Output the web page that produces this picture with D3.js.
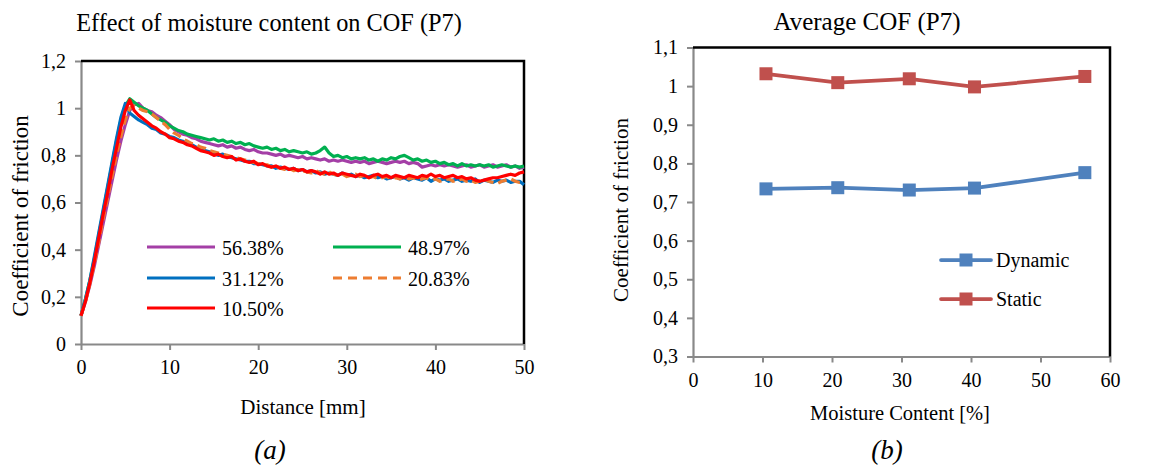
<!DOCTYPE html>
<html>
<head>
<meta charset="utf-8">
<script src="https://cdn.jsdelivr.net/npm/d3@7"></script>
<style>
  body { margin: 0; background: #fff; }
  svg text { font-family: "Liberation Serif", "Times New Roman", serif; }
</style>
</head>
<body>
<svg id="chart" width="1150" height="468"></svg>
<script>
/* (a) COF en fonction de la distance, un tracé par taux d'humidité */
const distance = [0,0.5,1,1.5,2,2.5,3,3.5,4,4.5,5,5.5,6,6.5,7,7.5,8,8.5,9,9.5,10,10.5,11,11.5,12,12.5,13,13.5,14,14.5,15,15.5,16,16.5,17,17.5,18,18.5,19,19.5,20,20.5,21,21.5,22,22.5,23,23.5,24,24.5,25,25.5,26,26.5,27,27.5,28,28.5,29,29.5,30,30.5,31,31.5,32,32.5,33,33.5,34,34.5,35,35.5,36,36.5,37,37.5,38,38.5,39,39.5,40,40.5,41,41.5,42,42.5,43,43.5,44,44.5,45,45.5,46,46.5,47,47.5,48,48.5,49,49.5,50]

const cof5638 = [0.12,0.18,0.25,0.33,0.42,0.51,0.6,0.69,0.78,0.86,0.93,0.99,1.015,1.02,1.0,0.99,0.985,0.97,0.96,0.945,0.93,0.91,0.9,0.89,0.885,0.875,0.87,0.86,0.855,0.85,0.845,0.84,0.845,0.835,0.84,0.83,0.835,0.825,0.82,0.825,0.815,0.81,0.81,0.805,0.8,0.805,0.795,0.8,0.795,0.79,0.795,0.785,0.79,0.785,0.78,0.785,0.775,0.78,0.775,0.78,0.775,0.77,0.775,0.77,0.775,0.765,0.77,0.775,0.77,0.765,0.77,0.775,0.77,0.775,0.765,0.77,0.765,0.75,0.755,0.76,0.755,0.76,0.755,0.76,0.755,0.75,0.755,0.76,0.75,0.755,0.76,0.75,0.755,0.76,0.75,0.755,0.76,0.75,0.755,0.745,0.75]
const cof4897 = [0.12,0.19,0.27,0.36,0.46,0.56,0.66,0.76,0.86,0.95,1.01,1.04,1.025,1.01,1.0,0.99,0.975,0.96,0.95,0.94,0.925,0.915,0.905,0.9,0.89,0.885,0.88,0.875,0.87,0.865,0.87,0.86,0.865,0.855,0.86,0.85,0.855,0.845,0.85,0.84,0.835,0.83,0.835,0.825,0.83,0.82,0.825,0.815,0.82,0.815,0.81,0.815,0.805,0.81,0.82,0.835,0.81,0.795,0.8,0.79,0.795,0.785,0.79,0.785,0.79,0.78,0.785,0.775,0.785,0.78,0.79,0.785,0.795,0.8,0.79,0.78,0.785,0.775,0.78,0.77,0.775,0.765,0.77,0.76,0.765,0.755,0.765,0.755,0.76,0.755,0.76,0.755,0.76,0.75,0.755,0.76,0.755,0.75,0.755,0.75,0.755]
const cof3112 = [0.12,0.19,0.27,0.37,0.47,0.57,0.67,0.77,0.87,0.96,1.02,0.98,0.965,0.95,0.94,0.93,0.915,0.91,0.895,0.89,0.88,0.875,0.865,0.86,0.85,0.845,0.835,0.825,0.82,0.815,0.81,0.8,0.805,0.795,0.79,0.785,0.78,0.775,0.775,0.765,0.765,0.76,0.755,0.755,0.745,0.75,0.745,0.74,0.745,0.735,0.74,0.73,0.735,0.725,0.73,0.72,0.725,0.72,0.715,0.725,0.715,0.72,0.71,0.715,0.705,0.71,0.715,0.705,0.71,0.7,0.705,0.71,0.7,0.705,0.695,0.705,0.7,0.695,0.705,0.69,0.7,0.695,0.7,0.69,0.695,0.7,0.69,0.695,0.69,0.7,0.685,0.695,0.69,0.685,0.695,0.69,0.695,0.685,0.69,0.69,0.675]
const cof2083 = [0.12,0.18,0.255,0.34,0.43,0.53,0.62,0.71,0.8,0.88,0.95,1.0,1.01,1.0,0.99,0.985,0.975,0.96,0.945,0.93,0.91,0.895,0.885,0.87,0.86,0.85,0.845,0.835,0.83,0.82,0.815,0.81,0.805,0.8,0.795,0.79,0.785,0.78,0.775,0.77,0.765,0.755,0.76,0.75,0.755,0.745,0.74,0.745,0.735,0.74,0.735,0.73,0.725,0.735,0.725,0.72,0.73,0.72,0.715,0.72,0.71,0.715,0.72,0.71,0.715,0.705,0.71,0.7,0.705,0.71,0.7,0.705,0.7,0.71,0.7,0.705,0.695,0.7,0.705,0.695,0.7,0.69,0.695,0.7,0.69,0.695,0.7,0.69,0.695,0.685,0.69,0.7,0.69,0.685,0.68,0.69,0.695,0.7,0.69,0.685,0.69]
const cof1050 = [0.12,0.18,0.26,0.35,0.45,0.55,0.64,0.74,0.83,0.92,0.99,1.035,0.99,0.97,0.955,0.94,0.925,0.915,0.9,0.89,0.875,0.87,0.86,0.855,0.845,0.84,0.83,0.82,0.815,0.81,0.8,0.805,0.795,0.79,0.795,0.78,0.785,0.775,0.77,0.775,0.76,0.765,0.755,0.75,0.755,0.745,0.75,0.74,0.745,0.735,0.74,0.73,0.735,0.73,0.72,0.73,0.72,0.725,0.715,0.725,0.72,0.715,0.71,0.72,0.715,0.705,0.715,0.72,0.71,0.715,0.705,0.715,0.71,0.705,0.715,0.71,0.705,0.715,0.71,0.72,0.71,0.715,0.705,0.71,0.715,0.705,0.71,0.7,0.705,0.695,0.69,0.695,0.7,0.705,0.705,0.71,0.715,0.72,0.715,0.725,0.73]

const seriesNames = ["56.38%", "48.97%", "31.12%", "20.83%", "10.50%"]
const seriesValues = [cof5638, cof4897, cof3112, cof2083, cof1050]
const seriesColors = ["#A43FA6", "#00B050", "#0070C0", "#ED7D31", "#FF0000"]
const dashed = [false, false, false, true, false]

const leftYTicks = [0, 0.2, 0.4, 0.6, 0.8, 1, 1.2]
const leftXTicks = [0, 10, 20, 30, 40, 50]

/* (b) COF moyen en fonction du taux d'humidité */
const moisture = [10.50, 20.83, 31.12, 40.5, 56.38]
const dynamicCof = [0.734, 0.737, 0.731, 0.736, 0.776]
const staticCof = [1.032, 1.009, 1.019, 0.998, 1.025]
const rightYTicks = [0.3, 0.4, 0.5, 0.6, 0.7, 0.8, 0.9, 1, 1.1]
const rightXTicks = [0, 10, 20, 30, 40, 50, 60]

const comma = v => String(+v.toFixed(2)).replace(".", ",")

const svg = d3.select("#chart")
const axisGrey = "#898989"
const serif = "'Liberation Serif', 'Times New Roman', serif"

function frame(x, y, xt, yt) {
    const gx = svg.append("g")
        .attr("transform", "translate(0," + y.range()[0] + ")")
        .call(d3.axisBottom(x).tickValues(xt).tickSize(6).tickSizeOuter(0).tickFormat(d3.format("d")).tickPadding(10))
    const gy = svg.append("g")
        .attr("transform", "translate(" + x.range()[0] + ",0)")
        .call(d3.axisLeft(y).tickValues(yt).tickSize(6).tickSizeOuter(0).tickFormat(comma).tickPadding(9))
    for (const g of [gx, gy]) {
        g.attr("font-family", serif).attr("font-size", 20)
        g.select(".domain").attr("stroke", axisGrey).attr("stroke-width", 2.2)
        g.selectAll(".tick line").attr("stroke", axisGrey).attr("stroke-width", 2)
        g.selectAll("text").attr("fill", "#000")
    }
    // bord haut et droit, noirs
    svg.append("path")
        .attr("d", d3.line()([[x.range()[0], y.range()[1]], [x.range()[1], y.range()[1]], [x.range()[1], y.range()[0]]]))
        .attr("fill", "none").attr("stroke", "#000").attr("stroke-width", 2.5)
}

/* ---- graphique (a) ---- */
const x1 = d3.scaleLinear().domain([0, 50]).range([81, 524])
const y1 = d3.scaleLinear().domain([0, 1.2]).range([344, 61])
frame(x1, y1, leftXTicks, leftYTicks)

const line1 = d3.line().x((d, i) => x1(distance[i])).y(d => y1(d))
seriesValues.forEach((vals, k) => {
    svg.append("path")
        .datum(vals)
        .attr("d", line1)
        .attr("fill", "none")
        .attr("stroke", seriesColors[k])
        .attr("stroke-width", 3.2)
        .attr("stroke-linejoin", "round")
        .attr("stroke-dasharray", dashed[k] ? "9,5" : null)
})

// légende (a)
const legPos = [[147, 247], [333, 247], [147, 278], [333, 278], [147, 308]]
seriesNames.forEach((name, k) => {
    const [lx, ly] = legPos[k]
    svg.append("line")
        .attr("x1", lx).attr("x2", lx + 68).attr("y1", ly).attr("y2", ly)
        .attr("stroke", seriesColors[k]).attr("stroke-width", 3)
        .attr("stroke-dasharray", dashed[k] ? "9,6" : null)
    svg.append("text").attr("x", lx + 75).attr("y", ly + 7.5)
        .attr("font-size", 20).text(name)
})

svg.append("text").attr("x", 269).attr("y", 31).attr("text-anchor", "middle")
    .attr("font-size", 24.3).text("Effect of moisture content on COF (P7)")
svg.append("text").attr("x", 303).attr("y", 414).attr("text-anchor", "middle")
    .attr("font-size", 21).text("Distance [mm]")
svg.append("text").attr("transform", "translate(28,216) rotate(-90)").attr("text-anchor", "middle")
    .attr("font-size", 23).text("Coefficient of friction")
svg.append("text").attr("x", 270).attr("y", 459).attr("text-anchor", "middle")
    .attr("font-size", 27).attr("font-style", "italic").text("(a)")

/* ---- graphique (b) ---- */
const x2 = d3.scaleLinear().domain([0, 60]).range([693, 1110])
const y2 = d3.scaleLinear().domain([0.3, 1.1]).range([356.5, 47.5])
frame(x2, y2, rightXTicks, rightYTicks)

const avgSeries = [
    { name: "Dynamic", values: dynamicCof, color: "#4F81BD" },
    { name: "Static", values: staticCof, color: "#C0504D" }
]
const line2 = d3.line().x((d, i) => x2(moisture[i])).y(d => y2(d))
avgSeries.forEach(s => {
    svg.append("path").datum(s.values).attr("d", line2)
        .attr("fill", "none").attr("stroke", s.color).attr("stroke-width", 3.75)
    svg.append("g").selectAll("rect").data(s.values).join("rect")
        .attr("x", (d, i) => x2(moisture[i]) - 6.5)
        .attr("y", d => y2(d) - 6.5)
        .attr("width", 13).attr("height", 13)
        .attr("fill", s.color)
})

// légende (b)
avgSeries.forEach((s, k) => {
    const ly = 260 + k * 39
    svg.append("line").attr("x1", 941).attr("x2", 991).attr("y1", ly).attr("y2", ly)
        .attr("stroke", s.color).attr("stroke-width", 3.75).attr("stroke-linecap", "round")
    svg.append("rect").attr("x", 959.5).attr("y", ly - 6.5).attr("width", 13).attr("height", 13)
        .attr("fill", s.color)
    svg.append("text").attr("x", 996).attr("y", ly + 7).attr("font-size", 20).text(s.name)
})

svg.append("text").attr("x", 867).attr("y", 30).attr("text-anchor", "middle")
    .attr("font-size", 25).text("Average COF (P7)")
svg.append("text").attr("x", 900).attr("y", 420).attr("text-anchor", "middle")
    .attr("font-size", 20.5).text("Moisture Content [%]")
svg.append("text").attr("transform", "translate(628,210) rotate(-90)").attr("text-anchor", "middle")
    .attr("font-size", 21).text("Coefficient of friction")
svg.append("text").attr("x", 887).attr("y", 459).attr("text-anchor", "middle")
    .attr("font-size", 27).attr("font-style", "italic").text("(b)")
</script>
</body>
</html>
